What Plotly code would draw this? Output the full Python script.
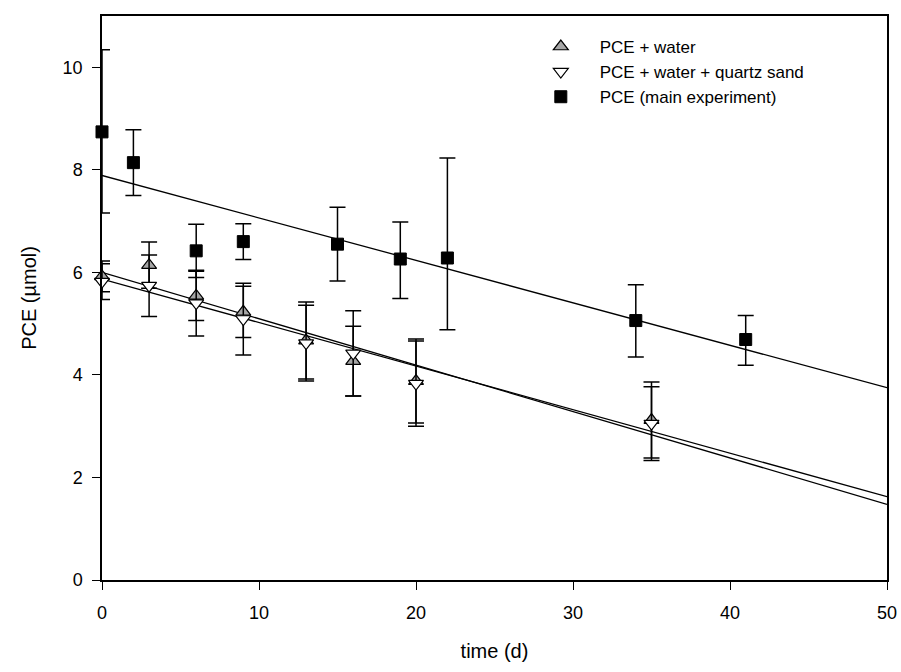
import plotly.graph_objects as go

# ---- data ----
water_t = [0, 3, 6, 9, 13, 16, 20, 35]
water_y = [5.92, 6.14, 5.54, 5.23, 4.67, 4.27, 3.88, 3.12]
water_err = [0.30, 0.45, 0.48, 0.50, 0.75, 0.68, 0.82, 0.74]

sand_t = [0, 3, 6, 9, 13, 16, 20, 35]
sand_y = [5.82, 5.74, 5.40, 5.09, 4.62, 4.42, 3.83, 3.05]
sand_err = [0.35, 0.60, 0.64, 0.70, 0.74, 0.83, 0.83, 0.72]

main_t = [0, 2, 6, 9, 15, 19, 22, 34, 41]
main_y = [8.74, 8.14, 6.42, 6.60, 6.55, 6.26, 6.28, 5.06, 4.69]
main_err_up = [1.60, 0.64, 0.52, 0.35, 0.72, 0.72, 1.95, 0.70, 0.47]
main_err_dn = [1.58, 0.64, 0.52, 0.35, 0.72, 0.77, 1.40, 0.71, 0.50]

# regression lines (start / end values)
fit_t = [0, 50]
fit_water = [6.00, 1.475]
fit_sand = [5.87, 1.625]
fit_main = [7.89, 3.75]

FONT = "Liberation Sans, Arial, sans-serif"
PAD = "\u00a0\u00a0\u00a0\u00a0"

fig = go.Figure()
for fy in (fit_water, fit_sand, fit_main):
    fig.add_trace(go.Scatter(x=fit_t, y=fy, mode="lines",
                             line=dict(color="black", width=1.3),
                             showlegend=False, hoverinfo="skip"))

fig.add_trace(go.Scatter(
    x=water_t, y=water_y, mode="markers", name=PAD + "PCE + water",
    cliponaxis=False,
    marker=dict(symbol="triangle-up", size=13, color="#a6a6a6",
                line=dict(color="black", width=1.2)),
    error_y=dict(type="data", array=water_err, color="black",
                 thickness=1.5, width=8)))
fig.add_trace(go.Scatter(
    x=sand_t, y=sand_y, mode="markers", name=PAD + "PCE + water + quartz sand",
    cliponaxis=False,
    marker=dict(symbol="triangle-down", size=13, color="white",
                line=dict(color="black", width=1.2)),
    error_y=dict(type="data", array=sand_err, color="black",
                 thickness=1.5, width=8)))
fig.add_trace(go.Scatter(
    x=main_t, y=main_y, mode="markers", name=PAD + "PCE (main experiment)",
    cliponaxis=False,
    marker=dict(symbol="square", size=12, color="black",
                line=dict(color="black", width=1)),
    error_y=dict(type="data", symmetric=False, array=main_err_up,
                 arrayminus=main_err_dn, color="black",
                 thickness=1.5, width=8)))

axis_common = dict(showline=True, linecolor="black", linewidth=1.5,
                   mirror=True, ticks="outside", ticklen=8, tickwidth=1.3,
                   tickcolor="black", showgrid=False, zeroline=False,
                   automargin=False,
                   tickfont=dict(family=FONT, size=18, color="black"))

fig.update_layout(
    width=901, height=672,
    margin=dict(l=102, r=14, t=16, b=92),
    paper_bgcolor="white", plot_bgcolor="white",
    xaxis=dict(range=[0, 50], tickvals=[0, 10, 20, 30, 40, 50],
               ticklabelstandoff=8,
               title=dict(text="time (d)", font=dict(family=FONT, size=20, color="black"),
                          standoff=22),
               **axis_common),
    yaxis=dict(range=[0, 11], tickvals=[0, 2, 4, 6, 8, 10],
               ticklabelstandoff=6,
               title=dict(text="PCE (µmol)", font=dict(family=FONT, size=20, color="black"),
                          standoff=21),
               **axis_common),
    legend=dict(x=0.559, y=0.977, xanchor="left", yanchor="top",
                bgcolor="rgba(0,0,0,0)", borderwidth=0,
                font=dict(family=FONT, size=17, color="black"),
                tracegroupgap=0),
    font=dict(family=FONT, color="black"),
)

fig.write_html("out.html",
               config={"displayModeBar": False},
               post_script="document.body.style.margin='0';"
                           "document.body.style.overflow='hidden';")
